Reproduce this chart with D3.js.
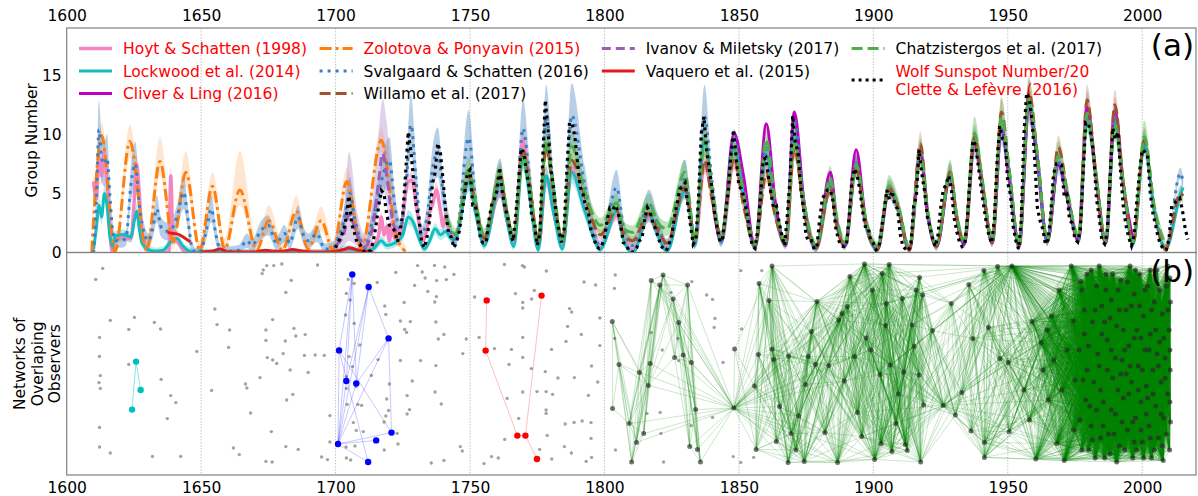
<!doctype html>
<html>
<head>
<meta charset="utf-8">
<title>Group number reconstructions and observer networks</title>
<script src="https://d3js.org/d3.v7.min.js"></script>
<style>
  body { margin: 0; background: #fff; }
  svg text { font-family: "DejaVu Sans", sans-serif; }
</style>
</head>
<body>
<script>
// ---------- panel (a) data ----------
var yearTicks = [1600, 1650, 1700, 1750, 1800, 1850, 1900, 1950, 2000];
var groupTicks = [0, 5, 10, 15];

// min, max, mid-decline of each cycle from 1745 on
var cycleKeys = [
  1744.5,1749.5,1752.1, 1755.3,1761.2,1763.5, 1766.3,1769.7,1772.3, 1775.4,1778.3,1781.0,
  1784.4,1787.8,1792.6, 1798.5,1804.5,1807.2, 1810.5,1816.6,1819.6, 1823.3,1829.9,1831.6,
  1833.6,1837.2,1840.0, 1843.4,1848.2,1851.7, 1856.0,1860.2,1863.4, 1867.4,1870.6,1874.2,
  1878.7,1884.0,1886.5, 1889.5,1893.6,1897.2, 1901.6,1905.8,1909.2, 1913.4,1917.5,1920.2,
  1923.5,1928.6,1930.9, 1933.8,1937.6,1940.6, 1944.2,1947.6,1950.6, 1954.2,1957.8,1960.9,
  1964.7,1968.8,1972.2, 1976.3,1979.5,1982.6, 1986.4,1989.8,1992.9, 1996.6,2000.8,2004.4,
  2008.7,2014.2,2015.2
];

var hoytEarly = [[1610,6],[1611,4.5],[1612,8],[1613,6.5],[1614,8.5],[1615,6],[1616,2],[1617,0],[1618,1.2],[1621,1.3],[1624,1.2],[1625,4],[1626,7.5],[1627,5],[1628,1.5],[1629,0.8],[1630,0.2],[1632,0],[1638,0],[1638.7,6.5],[1639.5,1.2],[1641,1],[1643,0.3],[1645,0],[1708,0],[1710,0.3],[1713,0.5],[1715,0.8],[1716,1.5],[1717,3],[1718,1.5],[1719,2.2],[1720,1],[1721,2.5],[1722,1.2],[1723,2],[1724,1.3],[1725,3],[1726,5],[1727,6],[1728.5,6.1],[1730,4],[1731,2.5],[1732.5,1],[1734,2],[1735,3.5],[1736,4],[1737.5,5.3],[1739,3.5],[1740,2.2],[1741,3.2],[1742,2],[1743,1.5]];
var hoytCycle = [1.2,6.0,3.5, 0.8,5.3,3.0, 1.0,9.5,5.0, 0.5,6.4,3.5, 0.8,7.0,3.8, 0.5,3.2,1.2, 0.2,3.0,1.6, 0.3,5.5,3.8, 0.6,7.5,5.0, 0.8,7.8,4.5, 0.4,8.0,3.5, 0.6,9.5,3.6, 0.3,5.5,2.2, 0.5,7.5,2.3, 0.3,5.3,3.7, 0.2,8.3,3.2, 0.5,6.6,3.0, 0.7,9.1,5.6, 0.8,10.5,6.2, 0.5,12.3,8.0, 0.9,7.8,4.6, 1.0,12.5,6.8, 0.8,12.0,5.8, 1.0,null,null, null,null,null];

var lockwoodEarly = [[1610,0.3],[1611,2],[1612,4],[1613,3],[1614,5],[1615,4],[1616,1.5],[1617,0.5],[1618,1.4],[1621,1.5],[1624,1.3],[1625,2.5],[1626,3.5],[1627,2],[1628,0.8],[1630,0.3],[1633,0.1],[1636,0.2],[1639,1],[1641,1.2],[1643,0.6],[1645,0.2],[1647,0],[1700,0],[1702,0.2],[1705,0.3],[1710,0.1],[1714,0.3],[1717,1],[1719,0.6],[1722,0.8],[1725,1.5],[1727,3.0],[1729,2.5],[1731,1.2],[1733,0.3],[1735,1],[1737,2],[1739,1.5],[1741,1.8],[1743,1.2]];
var lockwoodCycle = [1.2,6.0,3.3, 0.6,5.7,3.0, 0.5,8.0,4.5, 0.2,6.5,3.5, 0.3,6.8,3.6, 0.3,3.5,1.0, 0.0,3.2,1.6, 0.1,5.3,3.6, 0.6,9.5,5.2, 0.8,8.8,4.8, 0.4,8.3,3.6, 0.6,10.0,3.7, 0.3,5.6,2.2, 0.5,7.3,2.3, 0.2,5.3,3.7, 0.2,8.5,3.2, 0.5,6.6,3.0, 0.7,9.3,5.6, 0.8,10.4,6.2, 0.5,12.4,8.0, 0.9,7.6,4.6, 1.0,11.6,6.8, 0.8,11.2,5.8, 0.7,9.2,3.6, 0.3,4.9,5.5];

var cliverCycle = [null,null,null, null,null,null, null,null,null, null,null,null, null,null,null, null,null,null, null,null,null, null,null,null, null,null,4.8, 1.0,10.1,6.5, 0.5,10.9,4.5, 0.6,11.9,4.3, 0.4,6.8,2.5, 0.6,8.7,2.6, 0.3,5.3,3.8, 0.2,8.5,3.3, 0.5,6.5,3.0, 0.7,9.2,5.6, 0.8,10.4,6.2, 0.5,12.2,8.0, 0.9,7.4,4.6, 1.0,12.3,6.8, 0.8,12.0,5.8, 1.0,null,null, null,null,null];

var zolotovaYears = [1609.3,1613,1618,1623.5,1629.7,1634.7,1639.6,1644.3,1649.5,1654.2,1658.8,1664.4,1670.6,1675.2,1680.2,1685.4,1689.7,1694.7,1699,1704.2,1709.6,1717,1722.5,1726];
var zolotovaValues = [0,9.9,0.1,9.4,0.2,7.7,0.9,6.8,0.2,5.6,0.3,5.3,0.2,2.7,0.2,3.5,0.3,2.7,0.2,6.0,0.3,9.5,1.5,0.1];
var zolotovaHigh = [0.5,11.0,1.0,10.8,1.2,9.8,1.8,8.6,1.0,6.8,1.2,8.6,1.0,4.0,1.0,4.8,1.0,3.9,1.0,7.2,1.2,10.5,2.5,0.6];
var zolotovaLow = [0,8.8,0,8.0,0,6.5,0.2,5.6,0,4.5,0,4.0,0,1.8,0,2.5,0,1.8,0,5.0,0,8.5,0.8,0];

var svalgaardEarly = [[1610,0],[1611,4],[1612,10.4],[1613,8],[1614,7.5],[1615,8],[1616,5],[1617,2],[1618,1],[1620,1],[1622,1.2],[1624,6],[1625.5,7.5],[1627,4],[1629,1.5],[1630.5,1],[1632,2],[1633.5,3.7],[1635,2.2],[1637,1.8],[1639,2],[1641,3],[1643.5,5.1],[1645,3],[1646.5,0.5],[1648,0],[1650,0.2],[1652,2],[1653.8,3.7],[1655.5,1.5],[1657,0.3],[1660,0.1],[1664,0.2],[1667,1],[1669,0.6],[1672,1.8],[1675,2.3],[1678,0.8],[1681,1.6],[1683,0.8],[1686,3.0],[1688,1.5],[1690,1.0],[1693,1.6],[1696,0.3],[1699,0.4],[1701,1.2],[1703,2.6],[1705.3,5.0],[1707,3],[1709,1.2],[1711,0.4],[1713,2],[1715,4],[1717,6],[1720,7.8],[1722,4],[1724,2],[1726,5],[1728,10.8],[1730,6],[1732,1.5],[1734,3],[1736,7],[1738,8.5],[1740,5],[1742,2.5]];
var svalgaardCycle = [0.9,9.7,4.5, 1.0,6.3,3.5, 1.1,10.5,6.0, 0.6,11.5,5.5, 0.8,11.6,5.8, 0.5,5.5,2.0, 0.6,4.1,2.5, 0.6,6.2,4.3, 0.9,11.5,6.0, 1.0,9.8,5.5, 0.6,8.8,4.3, 0.7,11.2,4.3, 0.5,6.0,2.6, 0.6,7.6,2.6, 0.4,5.4,4.0, 0.3,8.6,3.5, 0.6,6.6,3.2, 0.8,9.7,5.8, 0.9,10.6,6.5, 0.6,12.6,8.2, 0.9,7.7,4.8, 1.1,11.5,7.0, 0.9,11.5,6.0, 0.8,9.1,3.8, 0.3,6.7,6.0];
// relative uncertainty of that reconstruction before / after 1840
var svalgaardSpread = [0.2, 0.05];

var willamoEarly = [[1747.5,5.0]];
var willamoCycle = [null,6.5,4.0, 1.2,6.5,3.6, 1.2,8.7,5.5, 0.8,9.0,5.0, 1.0,7.8,4.8, 1.5,3.6,1.5, 1.0,3.3,2.0, 0.8,5.5,3.8, 0.9,7.8,4.5, 1.4,8.0,4.0, 0.6,6.7,3.2, 0.7,8.8,3.6, 0.4,5.5,2.1, 0.6,7.2,2.4, 0.3,5.5,3.8, 0.2,9.2,3.4, 0.5,6.8,3.1, 0.8,9.8,5.8, 0.9,11.9,6.8, 0.5,13.6,8.5, 1.0,8.9,5.0, 1.2,12.9,7.0, 0.9,12.5,6.0, 0.8,9.5,3.8, 0.3,5.0,4.8];

var ivanovYears = [1700,1703,1705,1708,1711,1714,1716,1717.5,1719,1721,1723];
var ivanovValues = [0.6,1.5,3.2,1.5,0.5,2.5,6.0,8.4,6.5,3.0,1.5];
var ivanovHigh = [1.5,3.5,8.5,3.5,1.5,5,10,13,11,6,3];
var ivanovLow = [0,0.5,1,0.5,0,1,4,5.5,4,1.5,0.5];

// null = gap in the record
var vaqueroYears = [1637.5,1640,1642,1644,1646,1648,1650,1654,1657,1660,1666,1670,1674,1677,1680,1684,1688,1692,1697,1700,1703,1705,1707,1710,1714];
var vaqueroValues = [1.7,1.6,1.5,1.2,0.9,null,0.05,0.1,0.3,0.05,0.05,0.05,0.2,0.1,0.1,0.25,0.1,0.05,0.05,0.1,0.25,0.4,0.3,0.1,0.05];

var chatzEarly = [[1741,3.0],[1743,2.0]];
var chatzCycle = [1.5,7.0,4.2, 1.5,6.6,3.8, 1.3,8.3,5.5, 0.9,9.5,5.5, 1.0,9.0,5.2, 2.3,4.2,2.0, 1.7,4.2,2.6, 2.0,6.8,4.4, 1.0,9.5,5.5, 1.3,8.8,5.0, 0.7,9.6,4.2, 0.9,9.5,4.2, 0.6,6.3,2.8, 0.8,7.5,2.8, 0.5,5.6,4.0, 0.4,8.3,3.5, 0.7,6.8,3.3, 1.0,10.1,6.0, 1.0,11.5,6.8, 0.6,13.0,8.4, 1.0,8.2,5.0, 1.3,11.8,7.0, 1.0,10.9,6.0, 0.9,9.8,4.0, 0.6,null,null];

// Wolf sunspot number / 20, yearly from 1700
var wolfStart = 1700;
var wolfValues = [
  0.4,0.9,1.3,1.9,3.0,4.8,2.4,1.7,0.8,0.7, 0.25,0,0,0.2,0.9,2.25,3.9,5.25,5.0,3.25,
  2.3,2.2,1.8,0.9,1.75,3.3,6.5,10.2,8.6,6.1, 3.9,2.9,0.9,0.4,1.3,2.8,5.8,6.75,9.25,8.4,
  6.1,3.3,1.7,1.3,0.4,0.9,1.8,3.3,5.0,6.7, 7.0,4.0,4.0,2.6,1.0,0.8,0.85,2.7,4.0,4.5,
  5.2,7.2,5.1,3.8,3.0,1.7,0.95,3.15,5.8,8.8, 8.4,6.8,5.5,2.9,2.55,0.6,1.65,7.7,12.9,10.5,
  7.1,5.7,3.2,1.9,0.85,2.0,6.9,11.0,10.9,9.8, 7.5,5.55,5.0,3.9,3.4,1.8,1.3,0.5,0.34,0.57,
  1.2,2.8,3.75,3.6,4.0,3.5,2.3,0.84,0.7,0.2, 0,0.1,0.4,1.0,1.2,2.95,3.8,3.4,2.5,2.0,
  1.3,0.55,0.33,0.15,0.7,1.4,3.0,4.1,5.35,5.6, 5.9,4.0,2.3,0.7,1.1,4.7,10.1,11.5,8.6,7.1,
  5.4,3.1,2.0,0.9,1.25,3.3,5.1,8.2,10.4,8.0, 5.55,5.4,4.5,3.25,1.7,0.56,0.36,1.9,4.6,7.8,
  8.0,6.4,4.9,3.7,3.9,2.5,1.4,0.6,3.1,6.2, 11.6,9.3,8.5,5.5,3.7,1.4,0.94,1.0,0.28,0.5,
  2.7,4.5,5.0,5.3,5.3,4.35,2.1,1.1,0.57,0.5, 0.6,3.0,6.1,7.1,6.5,5.3,3.5,2.2,2.2,1.0,
  0.8,0.22,0.4,2.0,3.5,5.3,4.5,5.2,4.0,3.7, 1.55,0.5,0.3,0.12,0.8,3.95,4.75,8.7,6.7,5.3,
  3.1,2.2,1.2,0.5,1.4,3.7,5.3,5.75,6.5,5.4, 3.0,1.8,0.9,0.5,0.7,3.0,6.6,9.5,9.1,7.4,
  5.65,4.0,2.55,1.4,0.8,2.8,7.7,10.7,9.65,9.5, 5.9,4.9,2.2,1.0,0.3,2.7,10.0,13.5,13.1,11.25,
  7.95,3.8,2.7,2.0,0.7,1.1,3.3,6.6,7.5,7.5, 7.4,4.7,4.9,2.7,2.5,1.1,0.9,2.0,6.55,11.0,
  10.9,9.9,8.1,4.55,3.0,1.0,0.74,1.7,6.15,10.55, 9.6,10.2,6.65,3.8,2.25,1.25,0.58,1.45,4.4,6.8,
  8.7,8.5,8.2,5.0,3.3,2.3,1.2,0.63,0.21,0.24, 1.25,4.0,4.2,4.4,4.6,3.5,2.0,1.1
];

// ---------- panel (b) data: [year, position] ----------
var loneObservers = [
  [1610.8,14.7],[1613.4,9.2],[1616.2,35.2],[1625.2,33.7],[1623.1,39.7],[1632.6,36.2],[1634.9,39.5],[1612.2,43.7],[1612.2,53.2],[1623.1,57.2],[1612.5,62.8],[1612.0,66.3],[1612.5,69.2],[1635.1,64.7],[1638.7,72.8],[1640.6,76.3],[1637.4,84.3],[1612.2,88.7],[1612.2,98.5],[1616.2,101.5],[1631.9,103.2],[1642.4,103.2],[1648.4,50.7],
  [1653.9,70.2],[1655.1,29.5],[1655.9,37.3],[1660.6,40.0],[1660.2,48.7],[1662.0,99.0],[1664.2,102.3],[1666.5,67.0],[1667.0,69.0],[1668.4,81.5],[1671.9,63.8],[1672.7,11.8],[1673.1,10.0],[1674.4,7.8],[1677.0,7.8],[1680.0,7.0],[1683.5,15.2],[1681.5,21.2],[1676.6,34.8],[1674.1,40.0],[1674.1,45.2],[1681.3,45.5],[1684.5,39.2],[1685.2,43.0],[1688.7,42.3],[1680.5,51.8],[1676.6,55.0],[1674.6,53.8],[1678.1,56.7],[1683.1,60.0],[1688.4,52.7],[1689.8,61.2],[1692.4,52.5],[1695.8,52.7],[1693.3,7.5],[1684.1,72.2],[1681.8,75.0],[1676.1,90.8],[1676.4,106.0],[1674.1,105.7],[1681.5,98.3],[1686.1,99.7],[1694.8,103.5],[1697.0,104.8],[1697.9,82.8],[1697.9,96.0],
  [1704.7,14.7],[1706.9,16.7],[1704.0,21.7],[1705.4,25.0],[1703.7,32.5],[1706.9,36.7],[1709.0,47.5],[1705.0,53.3],[1706.3,58.3],[1704.0,63.3],[1707.6,68.3],[1704.0,69.2],[1704.3,77.2],[1708.3,77.2],[1709.7,77.7],[1718.0,86.0],[1719.7,80.2],[1718.7,83.0],[1719.0,74.5],[1720.0,67.0],[1706.6,86.3],[1707.7,90.2],[1710.3,90.8],[1703.9,98.5],[1707.2,98.0],[1704.0,104.0],[1705.6,105.0],
  [1715.5,16.2],[1718.3,28.0],[1718.7,32.2],[1722.4,11.2],[1730.5,7.8],[1732.2,11.0],[1733.3,14.0],[1736.8,7.7],[1740.6,8.5],[1744.0,12.2],[1741.2,14.8],[1737.6,15.3],[1729.4,17.7],[1734.3,20.7],[1737.5,23.3],[1736.9,26.0],[1725.5,26.2],[1724.1,35.5],[1727.8,35.8],[1725.7,39.7],[1726.4,41.2],[1737.3,36.0],[1740.3,42.2],[1738.2,44.5],[1748.6,44.5],[1747.3,51.8],[1724.1,55.2],[1731.6,55.3],[1737.3,57.8],[1713.3,62.7],[1715.8,54.8],[1728.5,65.5],[1726.6,72.8],[1737.0,71.0],[1739.3,77.0],[1727.5,79.8],[1726.6,82.0],[1722.9,91.7],[1723.2,97.0],[1718.1,100.0],[1735.6,106.5],[1740.3,105.2],[1746.4,98.3],[1747.1,100.5],
  [1751.7,23.5],[1762.8,7.2],[1769.5,7.8],[1770.2,8.5],[1778.4,10.5],[1773.9,20.2],[1766.9,21.8],[1769.6,26.2],[1769.6,29.0],[1772.9,24.5],[1753.4,43.7],[1759.1,49.3],[1765.4,49.7],[1769.6,43.7],[1769.6,53.7],[1764.5,57.2],[1772.8,59.3],[1778.0,60.8],[1780.3,49.7],[1782.7,64.0],[1763.8,74.2],[1769.6,71.0],[1774.9,70.8],[1778.3,70.8],[1780.7,72.2],[1778.3,80.0],[1778.3,81.7],[1778.7,92.7],[1785.4,87.0],[1788.7,86.2],[1791.7,85.5],[1795.0,86.3],[1785.1,98.3],[1780.4,104.5],[1775.9,99.7],[1760.5,104.0],[1755.2,106.8],[1758.0,103.3],[1762.9,94.7],[1768.1,84.2],[1787.0,29.3],[1787.8,31.0],[1791.4,42.2],[1786.3,38.2],[1785.7,45.7],[1792.4,16.0],[1796.7,17.5],[1795.2,58.0],[1797.5,66.0],[1788.8,63.8],[1787.7,101.5],[1793.2,105.7],[1795.2,103.7],[1795.0,94.2],[1794.0,72.7],
  [1798.3,34.0],[1798.3,47.8],[1804.0,12.5],[1803.7,19.2],[1803.8,44.2],[1804.1,100.0],[1817.4,41.3],[1815.8,81.7],[1820.7,81.2],[1821.0,91.7],[1822.0,106.0],[1821.5,50.0],[1824.7,21.3],[1827.3,44.2],[1827.6,55.3],[1832.5,15.8],[1838.0,22.5],[1840.2,24.7],[1841.1,34.2],[1840.8,38.7],[1840.2,83.7],[1832.3,87.8],[1844.1,56.2],[1847.9,103.3],[1850.7,106.2],[1851.0,39.5],[1850.7,10.3],[1858.5,10.3],[1855.5,103.7]
];

var cyanNet = [[1625.8,55.8],[1627.5,70.0],[1624.3,79.8]];
var cyanLinks = [[0,1],[0,2]];
var blueNet = [[1706.2,12.2],[1712.3,18.5],[1719.7,44.2],[1701.3,50.2],[1704.0,65.5],[1707.7,66.7],[1720.8,91.3],[1715.1,95.2],[1700.9,97.0],[1712.1,106.0]];
var blueLinks = [[8,0],[8,1],[8,2],[8,3],[8,4],[8,5],[8,6],[8,7],[8,9],[0,3],[0,4],[0,5],[1,4],[1,5],[1,2],[2,6],[2,5],[3,6],[3,9]];
var redNet = [[1756.2,25.2],[1776.6,22.8],[1755.8,50.3],[1767.6,92.8],[1770.6,92.8],[1774.9,104.5]];
var redLinks = [[0,2],[2,3],[1,4],[4,5],[3,4]];

// large network: [year, position, years observed]; links join overlapping observers
var greenNet = [
  [1802.9,35.8,14],[1805.4,57.2,10],[1803.0,79.2,8],[1809.2,86.8,14],[1810.1,106.0,6],[1811.9,96.2,6],[1813.0,61.2,12],[1814.6,91.8,6],[1816.3,67.7,14],[1817.0,56.8,10],[1817.4,15.3,8],[1820.6,17.5,16],[1821.8,12.5,12],[1825.5,24.5,12],[1826.1,53.7,8],[1827.6,36.3,10],[1829.3,52.5,10],[1830.9,17.5,14],[1832.3,56.2,8],[1831.7,98.3,6],[1833.9,79.8,6],[1834.6,99.8,6],[1835.7,106.0,8],
  [1848.4,49.5,6],[1848.1,79.0,70],
  [1855.8,68.0,20],[1856.4,99.7,14],[1857.2,52.2,10],[1857.5,16.8,12],[1861.2,25.2,18],[1862.3,8.0,30],[1862.3,49.5,16],[1862.9,54.7,14],[1863.9,95.8,16],[1865.1,78.3,14],[1868.3,106.2,20],[1868.5,53.0,22],[1869.4,91.8,16],[1871.2,100.0,18],[1872.2,83.0,14],[1874.3,105.7,30],[1874.8,67.2,16],[1875.8,53.3,20],[1877.0,40.8,18],[1878.5,57.2,18],[1879.0,25.8,34],[1882.0,91.3,20],[1883.4,57.8,18],[1886.7,106.2,24],[1887.1,35.0,20],[1888.4,31.7,20],[1889.2,65.5,20],[1890.3,28.3,20],[1891.3,13.2,22],[1893.0,53.3,20],[1894.1,81.2,20],[1895.7,93.3,20],[1896.7,7.0,40],[1897.3,44.0,18],[1899.0,50.0,18],[1900.5,104.7,36],[1899.7,20.0,20],
  [1902.5,62.2,20],[1902.9,96.7,20],[1903.3,11.7,24],[1904.5,37.7,18],[1904.8,26.7,18],[1905.9,7.3,40],[1906.3,57.5,20],[1906.9,100.8,24],[1908.4,86.7,18],[1909.3,72.0,18],[1910.8,24.2,18],[1911.3,61.0,16],[1911.9,97.2,16],[1912.6,100.3,16],[1914.4,37.5,16],[1915.2,48.3,14],[1916.0,20.0,16],[1917.0,62.5,14],[1917.2,13.7,14],[1917.6,106.0,16],[1918.3,22.5,12],[1918.7,77.5,12],[1922.0,40.3,14],[1926.0,77.8,50],[1929.0,26.7,16],[1930.5,82.5,14],[1932.9,71.3,16],[1935.5,17.2,16],[1936.3,90.5,16],[1937.0,44.2,18],[1941.1,10.3,22],[1941.3,96.3,24],[1941.3,103.7,30],[1942.8,38.7,16],[1946.2,8.3,20],[1947.1,54.2,16],[1950.1,56.2,16],[1950.5,90.8,16],[1951.5,8.0,80],
  [1959.0,35.8,40],[1960.4,104.5,40],[1962.3,46.3,50],[1964.6,40.0,40],[1966.2,33.0,40],[1968.2,96.7,40],[1971.0,105.3,40],[1973.6,8.0,40],[1974.3,35.5,36],[1977.1,15.8,20],[2007.8,105.3,30],
  [1956.0,70,30],[1958.0,85,30],[1963.0,60,36],[1965.0,75,36],[1967.0,55,30],[1969.0,20,36],[1970.0,70,34],[1972.0,50,30],[1974.5,90,30],[1975.0,65,26],
  [1977.5,20,20],[1978.5,42,18],[1979.5,60,20],[1980.5,78,16],[1981.5,95,18],[1982.5,30,22],[1983.5,52,16],[1984.5,70,18],[1985.5,88,20],[1986.5,12,24],[1987.0,45,16],[1988.0,102,18],[1988.5,25,20],[1989.0,64,18],[1990.0,82,16],[1990.5,38,20],[1991.5,98,18],[1992.0,15,22],[1992.5,55,16],[1993.0,74,18],[1994.0,30,20],[1994.5,90,16],[1995.0,48,18],[1995.5,8,20],[1996.0,66,18],[1996.5,104,16],[1997.0,22,18],[1997.5,84,20],[1998.0,40,16],[1998.5,58,18],[1999.0,12,20],[1999.5,76,16],[2000.0,96,18],[2000.5,33,16],[2001.0,50,18],[2001.5,68,16],[2002.0,18,18],[2002.5,88,16],[2003.0,42,16],[2003.5,104,14],[2004.0,60,16],[2004.5,26,14],[2005.0,78,14],[2005.5,10,14],[2006.0,94,12],[2006.5,46,12],[2007.0,66,12],[2007.5,32,12],[2008.0,84,10],[2008.5,54,10],[2009.0,18,10],[2009.5,72,10],[2010.0,40,8],[2010.2,100,8],[2010.4,60,8],[2010.5,26,8],[2010.5,86,8],
  [1984.0,8,20],[1990.5,106,16],[1993.5,50,16],[1998.0,100,16],[1980.0,100,18],[1986.0,36,18],[1983.0,80,18],[1992.0,62,14],[1996.0,28,14],[2002.0,74,14],[1988.5,50,16],[1978.0,65,18],[1981.0,10,20],[1985.0,28,16],[1987.5,92,16],[1991.0,20,16],[1994.0,62,16],[1997.0,96,16],[1999.5,44,16],[2003.0,10,14],[2005.5,52,12],[2007.5,98,12],[2009.5,8,10],
  [1976.5,50,18],[1976.8,85,18],[1977.5,100,18],[1978.5,30,16],[1979.0,75,16],[1979.5,12,18],[1980.0,48,16],[1981.0,88,16],[1981.5,36,16],[1982.0,66,16],[1982.5,104,16],[1983.0,18,16],[1984.0,58,16],[1984.5,94,16],[1985.0,42,16],[1985.5,76,16],[1986.0,104,16],[1986.5,20,16],[1987.0,60,16],[1988.0,34,16],[1988.5,80,16],[1989.0,12,16],[1989.5,92,16],[1990.0,54,16],[1991.0,70,16],[1991.5,30,16],[1992.5,86,16],[1993.0,40,16],[1993.5,100,16],[1994.5,16,16],[1995.0,72,16],[1995.5,58,16],[1996.5,86,16],[1997.0,44,16],[1997.5,10,16],[1998.5,70,16],[1999.0,28,16],[1999.5,90,16],[2000.0,60,16],[2000.5,104,16],[2001.0,20,16],[2001.5,82,16],[2002.5,50,16],[2003.0,94,14],[2003.5,30,14],[2004.0,72,14],[2004.5,100,14],[2005.0,40,14],[2006.0,58,12],[2006.5,20,12],[2007.0,82,12],[2008.0,44,10],[2008.5,64,10],[2009.0,92,10],[2009.5,30,10],[2010.3,50,8],[2010.3,14,8],[2010.3,76,8]
];

// ---------- build ----------
function withCycle(early, vals) {
  var pts = early.slice();
  cycleKeys.forEach(function(t, i) { if (vals[i] != null) pts.push([t, vals[i]]); });
  return pts;
}
function zip(ts, vs) { return ts.map(function(t, i) { return [t, vs[i]]; }); }
function spread(pts, frac, abs) {
  return pts.map(function(d) { return [d[0], Math.max(0, d[1] * (1 - frac) - abs), d[1] * (1 + frac) + abs]; });
}

var hoyt = withCycle(hoytEarly, hoytCycle);
var lockwood = withCycle(lockwoodEarly, lockwoodCycle);
var cliver = withCycle([], cliverCycle);
var zolotova = zip(zolotovaYears, zolotovaValues);
var svalgaard = withCycle(svalgaardEarly, svalgaardCycle);
var willamo = withCycle(willamoEarly, willamoCycle);
var ivanov = zip(ivanovYears, ivanovValues);
var vaquero = zip(vaqueroYears, vaqueroValues);
var chatz = withCycle(chatzEarly, chatzCycle);
var wolf = wolfValues.map(function(v, i) { return [wolfStart + i, v]; });

var svalgaardBand = spread(svalgaard.filter(function(d) { return d[0] < 1840; }), svalgaardSpread[0], 0.4)
  .concat(spread(svalgaard.filter(function(d) { return d[0] >= 1840; }), svalgaardSpread[1], 0.15));

var series = [
  {label: "Hoyt & Schatten (1998)", pts: hoyt, color: "#f585c0", w: 3.5, dash: null, red: true,
   band: spread(hoyt, 0.08, 0.25), fill: "#f781bf", op: 0.35, col: 0, row: 0},
  {label: "Lockwood et al. (2014)", pts: lockwood, color: "#14bdbd", w: 3, dash: null, red: true,
   band: spread(lockwood, 0.1, 0.3), fill: "#17c0c0", op: 0.3, col: 0, row: 1},
  {label: "Cliver & Ling (2016)", pts: cliver, color: "#c000c0", w: 3, dash: null, red: true,
   band: null, col: 0, row: 2},
  {label: "Zolotova & Ponyavin (2015)", pts: zolotova, color: "#ff7f0e", w: 3, dash: "12,4,3,4", red: true,
   band: zolotovaYears.map(function(t, i) { return [t, zolotovaLow[i], zolotovaHigh[i]]; }), fill: "#ffb87a", op: 0.35, col: 1, row: 0},
  {label: "Svalgaard & Schatten (2016)", pts: svalgaard, color: "#3b80c4", w: 3, dash: "3,5", red: false,
   band: svalgaardBand, fill: "#4a86c0", op: 0.4, col: 1, row: 1},
  {label: "Willamo et al. (2017)", pts: willamo, color: "#a0522d", w: 3, dash: "11,5", red: false,
   band: spread(willamo, 0.08, 0.3), fill: "#b5744e", op: 0.3, col: 1, row: 2},
  {label: "Ivanov & Miletsky (2017)", pts: ivanov, color: "#9b5fb5", w: 3, dash: "9,5", red: false,
   band: ivanovYears.map(function(t, i) { return [t, ivanovLow[i], ivanovHigh[i]]; }), fill: "#a77cc4", op: 0.35, col: 2, row: 0},
  {label: "Vaquero et al. (2015)", pts: vaquero, color: "#e31a1c", w: 3, dash: null, red: false,
   band: null, col: 2, row: 1},
  {label: "Chatzistergos et al. (2017)", pts: chatz, color: "#4daf4a", w: 3, dash: "11,5", red: false,
   band: spread(chatz, 0.1, 0.4), fill: "#5cb85a", op: 0.4, col: 3, row: 0},
  {label: "Wolf Sunspot Number/20", label2: "Clette & Lefèvre (2016)", pts: wolf, color: "#000", w: 3.2, dash: "3,4", red: true,
   band: null, linear: true, col: 3, row: 1.4}
];

var width = 1198, height = 496;
var left = 66.7, right = 1196, topA = 28, zeroA = 252.5, bottomB = 475;

var svg = d3.select("body").append("svg")
  .attr("width", width).attr("height", height);

var x = d3.scaleLinear().domain([1600, 2020]).range([left, right]);
var y = d3.scaleLinear().domain([0, 19]).range([zeroA, topA]);
var yNet = d3.scaleLinear().domain([0, 112]).range([250, 474]);

var defs = svg.append("defs");
defs.append("clipPath").attr("id", "clipA").append("rect")
  .attr("x", left).attr("y", topA).attr("width", right - left).attr("height", zeroA - topA);
defs.append("clipPath").attr("id", "clipB").append("rect")
  .attr("x", left).attr("y", zeroA).attr("width", right - left).attr("height", bottomB - zeroA);

// grid
svg.append("g").selectAll("line")
  .data(yearTicks.slice(1))
  .enter().append("line")
  .attr("x1", function(d) { return x(d); }).attr("x2", function(d) { return x(d); })
  .attr("y1", topA).attr("y2", bottomB)
  .attr("stroke", "#b4b4b4").attr("stroke-width", 0.8).attr("stroke-dasharray", "1.5,1.5");

// ---------- panel (a) ----------
var gA = svg.append("g").attr("clip-path", "url(#clipA)");

var area = d3.area()
  .x(function(d) { return x(d[0]); })
  .y0(function(d) { return y(d[1]); })
  .y1(function(d) { return y(d[2]); })
  .curve(d3.curveMonotoneX);

series.forEach(function(s) {
  if (!s.band) return;
  gA.append("path").attr("d", area(s.band))
    .attr("fill", s.fill).attr("fill-opacity", s.op).attr("stroke", "none");
});

series.forEach(function(s) {
  var line = d3.line()
    .defined(function(d) { return d[1] != null; })
    .x(function(d) { return x(d[0]); })
    .y(function(d) { return y(d[1]); })
    .curve(s.linear ? d3.curveLinear : d3.curveMonotoneX);
  gA.append("path").attr("d", line(s.pts))
    .attr("fill", "none").attr("stroke", s.color).attr("stroke-width", s.w)
    .attr("stroke-dasharray", s.dash);
});

// ---------- panel (b) ----------
var gB = svg.append("g").attr("clip-path", "url(#clipB)");

gB.append("g").selectAll("circle")
  .data(loneObservers).enter().append("circle")
  .attr("cx", function(d) { return x(d[0]); })
  .attr("cy", function(d) { return yNet(d[1]); })
  .attr("r", 1.7).attr("fill", "#7a7a7a").attr("fill-opacity", 0.7);

var greenLinks = [];
for (var i = 0; i < greenNet.length; i++) {
  for (var j = i + 1; j < greenNet.length; j++) {
    if (Math.abs(greenNet[i][0] - greenNet[j][0]) < (greenNet[i][2] + greenNet[j][2]) / 2) greenLinks.push([i, j]);
  }
}

function drawNet(nodes, links, color, linkOp, nodeColor, r) {
  var g = gB.append("g");
  g.selectAll("line").data(links).enter().append("line")
    .attr("x1", function(d) { return x(nodes[d[0]][0]); })
    .attr("y1", function(d) { return yNet(nodes[d[0]][1]); })
    .attr("x2", function(d) { return x(nodes[d[1]][0]); })
    .attr("y2", function(d) { return yNet(nodes[d[1]][1]); })
    .attr("stroke", color).attr("stroke-opacity", linkOp).attr("stroke-width", 1);
  g.selectAll("circle").data(nodes).enter().append("circle")
    .attr("cx", function(d) { return x(d[0]); })
    .attr("cy", function(d) { return yNet(d[1]); })
    .attr("r", r).attr("fill", nodeColor);
}
drawNet(greenNet, greenLinks, "#008000", 0.2, "rgba(40,40,40,0.65)", 2.5);
drawNet(blueNet, blueLinks, "#0000ff", 0.22, "#0000ff", 3.2);
drawNet(redNet, redLinks, "#ff0000", 0.25, "#ff0000", 3.2);
drawNet(cyanNet, cyanLinks, "#00bfbf", 0.45, "#00bfbf", 3.2);

// ---------- frames and axes ----------
svg.append("rect").attr("x", left).attr("y", topA).attr("width", right - left).attr("height", zeroA - topA)
  .attr("fill", "none").attr("stroke", "#808080").attr("stroke-width", 1.2);
svg.append("rect").attr("x", left).attr("y", zeroA).attr("width", right - left).attr("height", bottomB - zeroA)
  .attr("fill", "none").attr("stroke", "#808080").attr("stroke-width", 1.2);

var fs = "15.5px";
svg.append("g").attr("transform", "translate(0," + topA + ")")
  .call(d3.axisTop(x).tickValues(yearTicks).tickFormat(d3.format("d")).tickSize(0).tickPadding(7))
  .call(function(g) { g.select(".domain").remove(); g.selectAll("text").attr("font-size", fs).attr("fill", "#000").attr("font-family", "DejaVu Sans"); });
svg.append("g").attr("transform", "translate(0," + bottomB + ")")
  .call(d3.axisBottom(x).tickValues(yearTicks).tickFormat(d3.format("d")).tickSize(0).tickPadding(7))
  .call(function(g) { g.select(".domain").remove(); g.selectAll("text").attr("font-size", fs).attr("fill", "#000").attr("font-family", "DejaVu Sans"); });
svg.append("g").attr("transform", "translate(" + left + ",0)")
  .call(d3.axisLeft(y).tickValues(groupTicks).tickSize(0).tickPadding(5))
  .call(function(g) { g.select(".domain").remove(); g.selectAll("text").attr("font-size", fs).attr("fill", "#000").attr("font-family", "DejaVu Sans"); });

svg.append("text").attr("transform", "translate(37," + ((topA + zeroA) / 2) + ") rotate(-90)")
  .attr("text-anchor", "middle").attr("font-size", fs).text("Group Number");
var netLabel = ["Networks of", "Overlaping", "Observers"];
svg.append("g").selectAll("text").data(netLabel).enter().append("text")
  .attr("transform", function(d, i) { return "translate(" + (25 + i * 17.5) + "," + ((zeroA + bottomB) / 2) + ") rotate(-90)"; })
  .attr("text-anchor", "middle").attr("font-size", fs).text(function(d) { return d; });

svg.append("text").attr("x", 1194).attr("y", 56).attr("text-anchor", "end").attr("font-size", "31px").text("(a)");
svg.append("text").attr("x", 1194).attr("y", 282).attr("text-anchor", "end").attr("font-size", "31px").text("(b)");

// ---------- legend ----------
var colText = [123, 363.6, 645.8, 895.6];
var rowY = [48.5, 71, 93.5];
var leg = svg.append("g");
series.forEach(function(s) {
  var tx = colText[s.col];
  var cy = s.label2 ? 80 : rowY[s.row];
  leg.append("line").attr("x1", tx - 44).attr("x2", tx - 11).attr("y1", cy).attr("y2", cy)
    .attr("stroke", s.color).attr("stroke-width", s.w).attr("stroke-dasharray", s.dash);
  var ty = s.label2 ? [71, 89.3] : [cy];
  var txt = s.label2 ? [s.label, s.label2] : [s.label];
  txt.forEach(function(t, k) {
    leg.append("text").attr("x", tx).attr("y", ty[k]).attr("dy", "0.36em")
      .attr("font-size", fs).attr("fill", s.red ? "#ff0000" : "#000").text(t);
  });
});
</script>
</body>
</html>
